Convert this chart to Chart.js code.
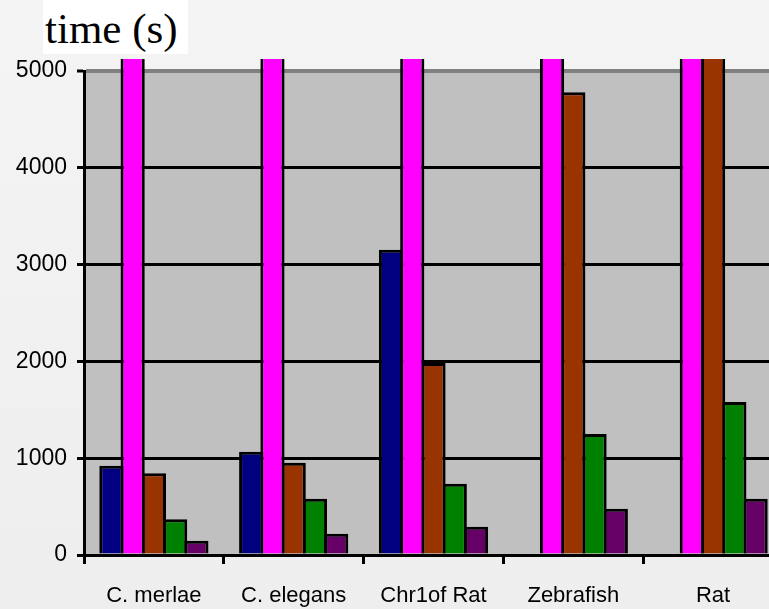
<!DOCTYPE html>
<html>
<head>
<meta charset="utf-8">
<script src="https://cdn.jsdelivr.net/npm/chart.js@4.4.1/dist/chart.umd.min.js"></script>
<style>
  html, body { margin: 0; padding: 0; }
  body {
    width: 769px; height: 609px; overflow: hidden; position: relative;
    background: linear-gradient(180deg, #f4f4f4 0%, #eeeeee 100%);
  }
  #title {
    position: absolute; left: 43px; top: 0; width: 145px; height: 54px;
    background: #ffffff; font-family: "Liberation Serif", "Times New Roman", serif;
    font-size: 43px; line-height: 1; padding: 7px 0 0 2px; box-sizing: border-box;
    color: #000; z-index: 2; white-space: nowrap;
  }
  #chart { position: absolute; left: 0; top: 0; }
</style>
</head>
<body>
<div id="title">time (s)</div>
<canvas id="chart" width="783" height="609"></canvas>
<script>
// genomes on the x axis
const genomes = ["C. merlae", "C. elegans", "Chr1of Rat", "Zebrafish", "Rat"];
// run times in seconds, one array per program (null = no result)
const timesNavy = [922, 1067, 3153, null, null];
const timesMagenta = [7200, 7800, 8600, 9400, 9900];
const timesBrown = [844, 953, 1983, 4780, 6400];
const timesGreen = [369, 582, 737, 1250, 1581];
const timesPurple = [148, 220, 292, 478, 582];
// y axis ticks
const yTicks = [0, 1000, 2000, 3000, 4000, 5000];

const barColors = ["#000080", "#ff00ff", "#993300", "#008000", "#660066"];
const series = [timesNavy, timesMagenta, timesBrown, timesGreen, timesPurple];

//fill the plot area grey before anything else is drawn
const plotBackground = {
  id: "plotBackground",
  beforeDraw(chart) {
    const { ctx, chartArea: a } = chart;
    ctx.save();
    ctx.fillStyle = "#c0c0c0";
    ctx.fillRect(a.left, a.top, a.right - a.left, a.bottom - a.top);
    ctx.restore();
  },
};

new Chart(document.getElementById("chart"), {
  type: "bar",
  data: {
    labels: genomes,
    datasets: series.map((values, i) => ({
      data: values,
      backgroundColor: barColors[i],
      borderColor: "#000000",
      borderWidth: 3,
      borderSkipped: "start",
      categoryPercentage: 0.76,
      barPercentage: 1.14,
      //let the tall bars poke a little above the top line
      clip: { left: 5, top: 12, right: 5, bottom: 5 },
    })),
  },
  options: {
    responsive: false,
    animation: false,
    layout: { padding: { top: 71, left: 0, right: 0, bottom: 0 } },
    plugins: {
      legend: { display: false },
      tooltip: { enabled: false },
    },
    scales: {
      x: {
        z: 1,
        afterFit: (scale) => { scale.height = 54; },
        grid: {
          offset: true,
          drawOnChartArea: false,
          tickLength: 9,
          tickColor: "#000000",
          tickWidth: 3,
        },
        border: { color: "#000000", width: 3 },
        ticks: {
          color: "#000000",
          padding: 19,
          maxRotation: 0,
          font: { family: "'Liberation Sans', Arial, sans-serif", size: 22 },
        },
      },
      y: {
        min: 0,
        max: 5000,
        afterFit: (scale) => { scale.width = 84; },
        afterBuildTicks: (scale) => { scale.ticks = yTicks.map((v) => ({ value: v })); },
        grid: {
          color: (c) => (c.tick && c.tick.value === 5000 ? "#808080" : "#000000"),
          lineWidth: (c) => (c.tick && c.tick.value === 5000 ? 4 : 3),
          tickLength: 7,
          tickColor: "#000000",
          tickWidth: 3,
        },
        border: { color: "#000000", width: 3 },
        ticks: {
          color: "#000000",
          padding: 10,
          callback: (v) => String(v),
          font: { family: "'Liberation Sans Narrow', 'Liberation Sans', Arial, sans-serif", size: 23 },
        },
      },
    },
  },
  plugins: [plotBackground],
});
</script>
</body>
</html>
